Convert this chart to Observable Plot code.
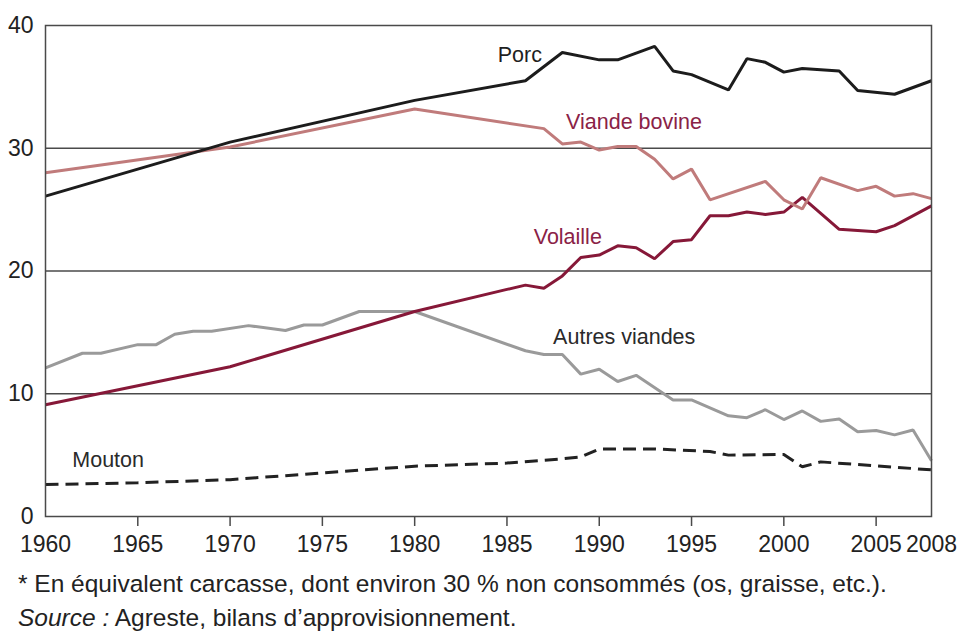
<!DOCTYPE html>
<html>
<head>
<meta charset="utf-8">
<script src="https://cdn.jsdelivr.net/npm/d3@7"></script>
<script src="https://cdn.jsdelivr.net/npm/@observablehq/plot@0.6"></script>
<style>
  body { margin: 0; background: #fff; font-family: "Liberation Sans", Arial, sans-serif; overflow: hidden; }
  #chart svg { display: block; }
  #footer { padding: 2px 0 0 18px; font-size: 24.5px; line-height: 34px; color: #222; white-space: nowrap; }
</style>
</head>
<body>
<div id="chart"></div>
<div id="footer">
  <div>* En équivalent carcasse, dont environ 30 % non consommés (os, graisse, etc.).</div>
  <div><i>Source :</i> Agreste, bilans d’approvisionnement.</div>
</div>
<script>
// ---- data ----
const porcYears   = [1960, 1970, 1980, 1986, 1988, 1990, 1991, 1993, 1994, 1995, 1997, 1998, 1999, 2000, 2001, 2003, 2004, 2006, 2008];
const porcValues  = [26.1, 30.5, 33.9, 35.5, 37.8, 37.2, 37.2, 38.3, 36.3, 36.0, 34.75, 37.3, 37.0, 36.2, 36.5, 36.3, 34.7, 34.4, 35.5];

const bovineYears  = [1960, 1970, 1980, 1987, 1988, 1989, 1990, 1991, 1992, 1993, 1994, 1995, 1996, 1999, 2000, 2001, 2002, 2004, 2005, 2006, 2007, 2008];
const bovineValues = [28.0, 30.1, 33.2, 31.6, 30.35, 30.5, 29.85, 30.15, 30.15, 29.1, 27.5, 28.3, 25.8, 27.3, 25.8, 25.05, 27.6, 26.55, 26.9, 26.1, 26.3, 25.9];

const volailleYears  = [1960, 1970, 1980, 1985, 1986, 1987, 1988, 1989, 1990, 1991, 1992, 1993, 1994, 1995, 1996, 1997, 1998, 1999, 2000, 2001, 2003, 2005, 2006, 2008];
const volailleValues = [9.1, 12.2, 16.7, 18.5, 18.85, 18.6, 19.6, 21.1, 21.3, 22.05, 21.9, 21.0, 22.4, 22.55, 24.5, 24.5, 24.8, 24.6, 24.8, 26.0, 23.4, 23.2, 23.7, 25.3];

const autresYears  = [1960, 1962, 1963, 1965, 1966, 1967, 1968, 1969, 1971, 1973, 1974, 1975, 1977, 1980, 1986, 1987, 1988, 1989, 1990, 1991, 1992, 1994, 1995, 1997, 1998, 1999, 2000, 2001, 2002, 2003, 2004, 2005, 2006, 2007, 2008];
const autresValues = [12.1, 13.3, 13.3, 14.0, 14.0, 14.85, 15.1, 15.1, 15.55, 15.15, 15.6, 15.6, 16.7, 16.7, 13.5, 13.2, 13.2, 11.6, 12.0, 11.0, 11.5, 9.5, 9.5, 8.2, 8.05, 8.7, 7.9, 8.6, 7.75, 7.95, 6.9, 7.0, 6.65, 7.05, 4.55];

const moutonYears  = [1960, 1965, 1970, 1975, 1980, 1985, 1988, 1989, 1990, 1993, 1996, 1997, 2000, 2001, 2002, 2008];
const moutonValues = [2.6, 2.75, 3.0, 3.55, 4.1, 4.35, 4.7, 4.85, 5.5, 5.5, 5.3, 5.0, 5.05, 4.05, 4.45, 3.8];

const yTicks = [0, 10, 20, 30, 40];
const gridValues = [10, 20, 30];
const xTickMarks = [1965, 1970, 1975, 1980, 1985, 1990, 1995, 2000, 2005];
const xTickLabels = [1960, 1965, 1970, 1975, 1980, 1985, 1990, 1995, 2000, 2005, 2008];

// series labels: name, anchor year, anchor value
const labelNames  = ["Porc", "Viande bovine", "Volaille", "Autres viandes", "Mouton"];
const labelYears  = [1984.5, 1988.2, 1986.45, 1987.5, 1961.45];
const labelValues = [37.55, 32.1, 22.8, 14.6, 4.62];
const labelColors = ["#1f1f1f", "#8a2246", "#8a2246", "#2a2a2a", "#2a2a2a"];

// ---- build tables ----
const zip = (ys, vs) => ys.map((y, i) => ({year: y, value: vs[i]}));
const porc = zip(porcYears, porcValues);
const bovine = zip(bovineYears, bovineValues);
const volaille = zip(volailleYears, volailleValues);
const autres = zip(autresYears, autresValues);
const mouton = zip(moutonYears, moutonValues);
const labels = labelNames.map((n, i) => ({name: n, year: labelYears[i], value: labelValues[i], color: labelColors[i]}));

const lineOpts = {x: "year", y: "value", strokeWidth: 3, strokeLinejoin: "miter", strokeLinecap: "butt"};

const chart = Plot.plot({
  width: 963,
  height: 565,
  marginTop: 25,
  marginBottom: 49,
  marginLeft: 45,
  marginRight: 32,
  style: {fontFamily: "'Liberation Sans', Arial, sans-serif", fontSize: "23px", color: "#222", background: "#fff"},
  x: {domain: [1960, 2008], label: null},
  y: {domain: [0, 40], label: null},
  marks: [
    Plot.ruleY(gridValues, {stroke: "#4a4a4a", strokeWidth: 1.3}),
    Plot.line(autres, {...lineOpts, stroke: "#9a9a9a"}),
    Plot.line(mouton, {...lineOpts, stroke: "#222", strokeDasharray: "13,7"}),
    Plot.line(volaille, {...lineOpts, stroke: "#861838"}),
    Plot.line(bovine, {...lineOpts, stroke: "#c07b7b"}),
    Plot.line(porc, {...lineOpts, stroke: "#1c1c1c"}),
    Plot.frame({stroke: "#4a4a4a", strokeWidth: 1.5}),
    Plot.axisY({ticks: yTicks, tickSize: 0, tickPadding: 12, fontSize: 23, label: null}),
    Plot.axisX({ticks: xTickMarks, tickSize: 10, tickFormat: () => "", stroke: "#4a4a4a", strokeWidth: 1.5, label: null}),
    Plot.axisX({ticks: xTickLabels, tickSize: 0, tickPadding: 19, tickFormat: d => String(d), fontSize: 23, label: null}),
    Plot.text(labels, {x: "year", y: "value", text: "name", fill: "color", textAnchor: "start", fontSize: 21.5})
  ]
});
document.getElementById("chart").appendChild(chart);
</script>
</body>
</html>
